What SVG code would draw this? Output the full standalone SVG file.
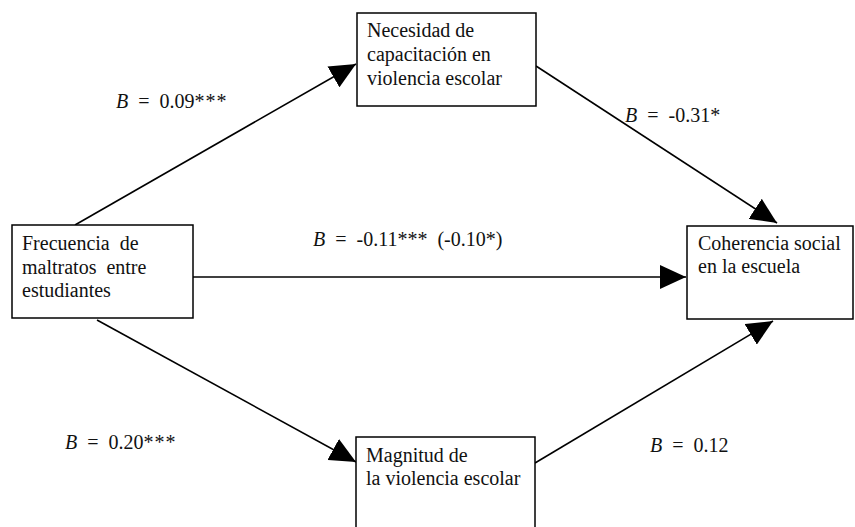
<svg xmlns="http://www.w3.org/2000/svg" width="855" height="527" viewBox="0 0 855 527">
<defs>
<style>
.box{fill:#fff;stroke:#000;stroke-width:1.5}
.t{font-family:'Liberation Serif','Times New Roman',Times,serif;font-size:20px;fill:#111}
.lb{word-spacing:5px}
.st{letter-spacing:1px}
.edge{stroke:#000;stroke-width:1.6;fill:none;marker-end:url(#ah)}
</style>
<marker id="ah" viewBox="0 0 26 24" refX="26" refY="12" markerWidth="26" markerHeight="24" markerUnits="userSpaceOnUse" orient="auto">
<path d="M0,0 L26,12 L0,24 Z" fill="#000"/>
</marker>
</defs>
<rect width="855" height="527" fill="#fff"/>
<g id="connectors">
<line class="edge" x1="75" y1="225" x2="356" y2="64"/>
<line class="edge" x1="536" y1="66" x2="777" y2="223"/>
<line class="edge" x1="193" y1="277" x2="686" y2="277"/>
<line class="edge" x1="97" y1="320" x2="356" y2="462"/>
<line class="edge" x1="535" y1="463" x2="773" y2="321"/>
</g>
<g id="n1">
<rect class="box" x="12" y="225" width="181" height="93"/>
<text class="t" x="22" y="250" xml:space="preserve">Frecuencia  de</text>
<text class="t" x="22" y="274" xml:space="preserve">maltratos  entre</text>
<text class="t" x="22" y="297">estudiantes</text>
</g>
<g id="n2">
<rect class="box" x="357" y="13" width="179" height="93"/>
<text class="t" x="367" y="37">Necesidad de</text>
<text class="t" x="367" y="61">capacitación en</text>
<text class="t" x="367" y="85">violencia escolar</text>
</g>
<g id="n3">
<rect class="box" x="687" y="226" width="166" height="93"/>
<text class="t" x="698" y="250">Coherencia social</text>
<text class="t" x="698" y="273">en la escuela</text>
</g>
<g id="n4">
<rect class="box" x="356" y="437" width="179" height="100"/>
<text class="t" x="366" y="462">Magnitud de</text>
<text class="t" x="366" y="485">la violencia escolar</text>
</g>
<g id="labels">
<text class="t lb" x="116" y="108"><tspan font-style="italic">B</tspan> = 0.09<tspan class="st">***</tspan></text>
<text class="t lb" x="625" y="122"><tspan font-style="italic">B</tspan> = -0.31*</text>
<text class="t lb" x="313" y="246"><tspan font-style="italic">B</tspan> = -0.11*** (-0.10*)</text>
<text class="t lb" x="65" y="449"><tspan font-style="italic">B</tspan> = 0.20<tspan class="st">***</tspan></text>
<text class="t lb" x="650" y="452"><tspan font-style="italic">B</tspan> = 0.12</text>
</g>
</svg>
